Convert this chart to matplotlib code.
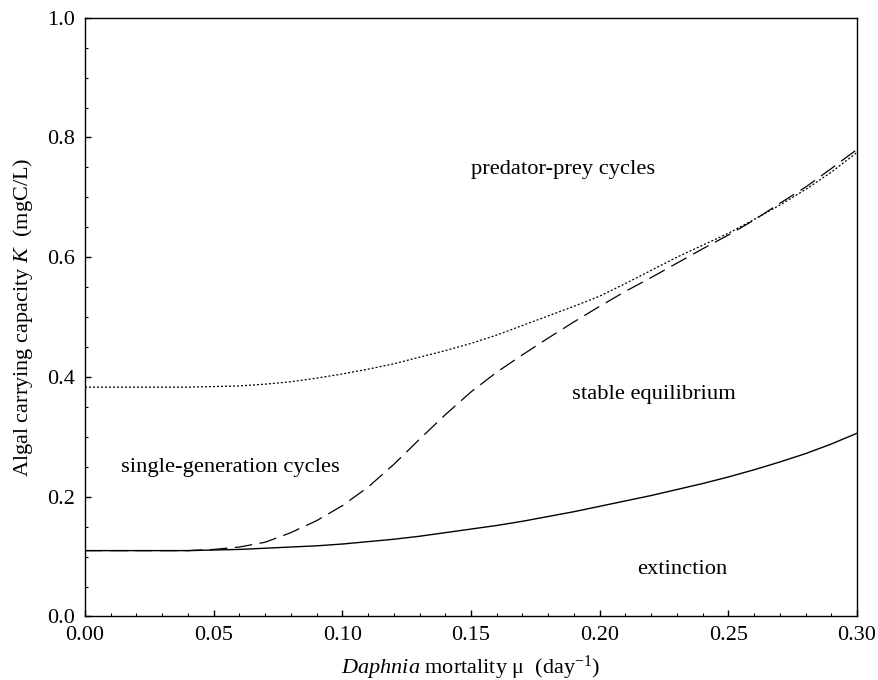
import matplotlib
matplotlib.use('Agg')
import matplotlib.pyplot as plt
import numpy as np

plt.rcParams['font.family'] = 'serif'
plt.rcParams['font.serif'] = ['Liberation Serif', 'DejaVu Serif']
plt.rcParams['mathtext.fontset'] = 'custom'
plt.rcParams['mathtext.rm'] = 'Liberation Serif'
plt.rcParams['mathtext.it'] = 'Liberation Serif:italic'

# extinction boundary (solid)
mu_ext = [0.0, 0.02, 0.04, 0.05, 0.06, 0.07, 0.08, 0.09, 0.10, 0.11, 0.12, 0.13, 0.14,
          0.15, 0.16, 0.17, 0.18, 0.19, 0.20, 0.21, 0.22, 0.23, 0.24, 0.25, 0.26,
          0.27, 0.28, 0.29, 0.30]
k_ext = [0.110, 0.110, 0.110, 0.111, 0.112, 0.114, 0.116, 0.118, 0.121, 0.125, 0.129,
         0.134, 0.140, 0.146, 0.152, 0.159, 0.167, 0.175, 0.184, 0.193, 0.202, 0.212,
         0.222, 0.233, 0.245, 0.258, 0.272, 0.288, 0.306]

# single-generation cycles boundary (dashed)
mu_sgc = [0.0, 0.04, 0.05, 0.06, 0.07, 0.08, 0.09, 0.10, 0.11, 0.12, 0.13, 0.14, 0.15,
          0.16, 0.17, 0.18, 0.19, 0.20, 0.21, 0.22, 0.23, 0.24, 0.25, 0.26, 0.27,
          0.28, 0.29, 0.30]
k_sgc = [0.110, 0.110, 0.112, 0.116, 0.124, 0.140, 0.160, 0.185, 0.216, 0.254, 0.296,
         0.337, 0.375, 0.408, 0.437, 0.465, 0.492, 0.518, 0.543, 0.566, 0.590, 0.614,
         0.637, 0.662, 0.690, 0.717, 0.748, 0.780]

# predator-prey cycles boundary (dotted)
mu_ppc = [0.0, 0.02, 0.04, 0.05, 0.06, 0.07, 0.08, 0.09, 0.10, 0.11, 0.12, 0.13, 0.14,
          0.15, 0.16, 0.17, 0.18, 0.19, 0.20, 0.21, 0.22, 0.23, 0.24, 0.25, 0.26,
          0.27, 0.28, 0.29, 0.30]
k_ppc = [0.383, 0.383, 0.383, 0.384, 0.385, 0.388, 0.392, 0.398, 0.405, 0.413, 0.422,
         0.433, 0.444, 0.456, 0.470, 0.486, 0.502, 0.518, 0.535, 0.556, 0.578, 0.600,
         0.620, 0.640, 0.663, 0.687, 0.713, 0.742, 0.775]

region_labels = ['predator-prey cycles', 'stable equilibrium',
                 'single-generation cycles', 'extinction']
label_mu = [0.1856, 0.221, 0.0564, 0.232]
label_k = [0.747, 0.370, 0.248, 0.078]

fig = plt.figure(figsize=(8.79, 6.80), dpi=100)
ax = fig.add_axes([0.0967, 0.0934, 0.8783, 0.8806])

ax.plot(mu_ext, k_ext, color='black', lw=1.0)
ax.plot(mu_sgc, k_sgc, color='black', lw=0.9, dashes=(14, 6))
ax.plot(mu_ppc, k_ppc, color='black', lw=0.9, dashes=(1.6, 1.6))

for txt, x, y in zip(region_labels, label_mu, label_k):
    ax.text(x, y, txt, ha='center', va='center', fontsize=16.2)

ax.set_xlim(0, 0.30)
ax.set_ylim(0, 1.0)
ax.set_xticks(np.arange(0, 0.301, 0.05))
ax.set_xticks(np.arange(0, 0.301, 0.01), minor=True)
ax.set_yticks(np.arange(0, 1.01, 0.2))
ax.set_yticks(np.arange(0, 1.01, 0.05), minor=True)
ax.set_xticklabels(['%.2f' % v for v in np.arange(0, 0.301, 0.05)])
ax.set_yticklabels(['%.1f' % v for v in np.arange(0, 1.01, 0.2)])
ax.tick_params(which='both', direction='in', top=False, right=False, labelsize=16)
ax.tick_params(which='major', length=4, width=1, pad=7)
ax.tick_params(which='minor', length=2.4, width=0.8)
for sp in ax.spines.values():
    sp.set_linewidth(1.0)

ax.set_xlabel(r'$\it{Daphnia}$ mortality μ  (day$^{\mathrm{-1}}$)', fontsize=16, labelpad=6)
ax.set_ylabel(r'Algal carrying capacity $\it{K}$  (mgC/L)', fontsize=16, labelpad=9)

fig.savefig('out.png', dpi=100)
